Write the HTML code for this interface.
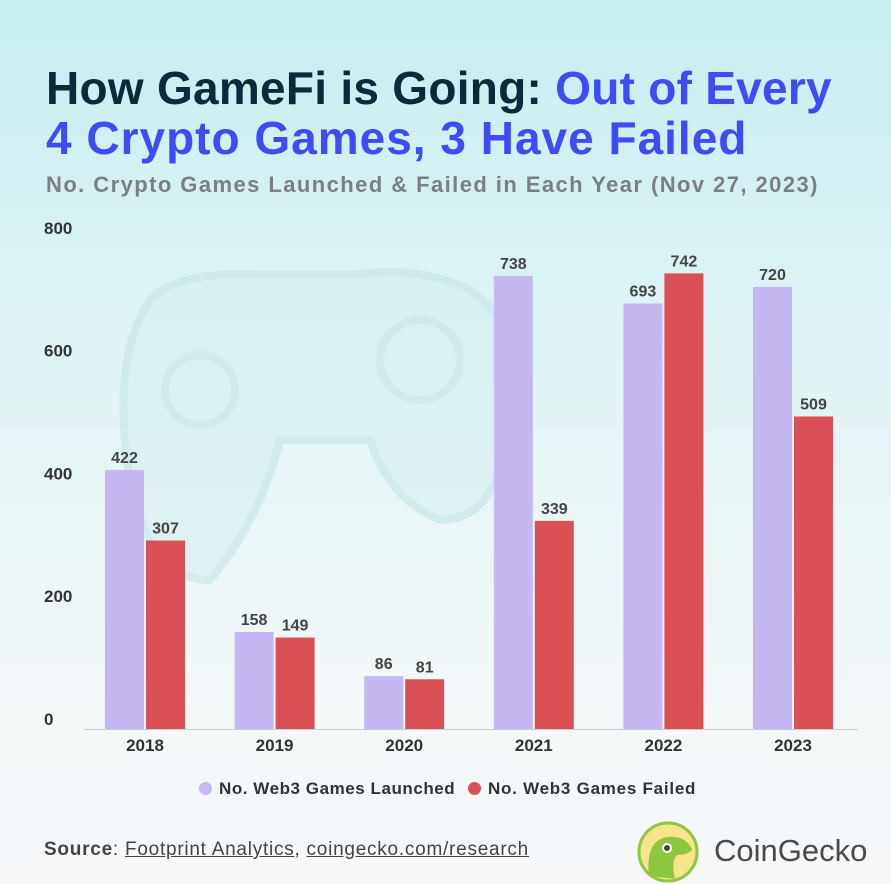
<!DOCTYPE html>
<html><head><meta charset="utf-8"><style>
body{margin:0;width:891px;height:884px;overflow:hidden;font-family:"Liberation Sans",sans-serif;}
#root{position:relative;width:891px;height:884px;background:linear-gradient(180deg,#c8edf0 0%,#e3f4f5 45%,#f3f8f9 80%,#f6f8fa 100%);}
.t{position:absolute;left:46px;font-weight:bold;font-size:46px;letter-spacing:0.27px;line-height:50px;color:#0d2a3a;white-space:nowrap;}
.b{color:#3d4cf5;}
</style></head><body>
<div id="root">
<div class="t" style="top:63px">How GameFi is Going: <span class="b">Out of Every</span></div>
<div class="t b" style="top:113px;letter-spacing:1px">4 Crypto Games, 3 Have Failed</div>
<div style="position:absolute;left:46px;top:172px;font-size:22px;letter-spacing:1.43px;font-weight:bold;color:#7b7f84;white-space:nowrap">No. Crypto Games Launched &amp; Failed in Each Year (Nov 27, 2023)</div>
<svg id="chart" width="891" height="884" style="position:absolute;left:0;top:0">
<g fill="none" stroke="#c4e4e7" stroke-width="8" opacity="0.6">
<path d="M150,300 Q180,270 260,275 L350,275 Q420,265 470,290 Q520,320 510,420 Q500,520 440,520 Q390,500 370,440 L280,440 Q260,520 210,580 Q150,580 130,480 Q110,360 150,300Z" fill="#d6eef0"/>
<circle cx="200" cy="390" r="35"/><circle cx="420" cy="360" r="40"/>
</g>
<g id="axes"></g><g id="bars"></g>
</svg>
<div style="position:absolute;left:199px;top:782px;width:13px;height:13px;border-radius:50%;background:#c5b8f2"></div>
<div style="position:absolute;left:219px;top:779px;font-size:17px;letter-spacing:0.55px;font-weight:bold;color:#333;white-space:nowrap">No. Web3 Games Launched</div>
<div style="position:absolute;left:468px;top:782px;width:13px;height:13px;border-radius:50%;background:#db5055"></div>
<div style="position:absolute;left:488px;top:779px;font-size:17px;letter-spacing:0.75px;font-weight:bold;color:#333;white-space:nowrap">No. Web3 Games Failed</div>
<div style="position:absolute;left:44px;top:839px;font-size:19px;letter-spacing:0.75px;color:#444;white-space:nowrap"><b>Source</b>: <u>Footprint Analytics</u>, <u>coingecko.com/research</u></div>
<svg style="position:absolute;left:637px;top:821px" width="62" height="62">
<circle cx="31" cy="31" r="29" fill="#f8e48a" stroke="#8dc63f" stroke-width="3"/>
<path d="M12,55 Q8,20 30,16 Q48,14 55,28 Q52,34 40,34 Q34,40 38,58 Z" fill="#8dc63f"/>
<circle cx="30" cy="27" r="5" fill="#fff"/><circle cx="30" cy="27" r="3" fill="#444"/>
</svg>
<div style="position:absolute;left:714px;top:833px;font-size:31px;color:#4a4a4a">CoinGecko</div>
</div>
<script>
const years=["2018","2019","2020","2021","2022","2023"];
const launched=[422,158,86,738,693,720];
const failed=[307,149,81,339,742,509];
const yTicks=[0,200,400,600,800];
const NS="http://www.w3.org/2000/svg";
const y0=729,pxPer=0.614,x0=145,step=129.6,bw=39;
const y=v=>y0-v*pxPer, xc=i=>x0+i*step;
const ax=document.getElementById('axes'),bars=document.getElementById('bars');
function mk(tag,attrs,parent,text){const e=document.createElementNS(NS,tag);for(const k in attrs)e.setAttribute(k,attrs[k]);if(text!=null)e.textContent=text;parent.appendChild(e);return e;}
yTicks.forEach(t=>{const e=mk('text',{x:44,y:y(t)-4,'font-size':17,'font-weight':'bold',fill:'#333','font-family':'Liberation Sans'},ax,t);

});
const bl=mk('line',{x1:84,x2:858,y1:y0+0.5,y2:y0+0.5,stroke:'#ccc'},ax);


years.forEach((yr,i)=>{
 const l=mk('text',{x:xc(i),y:751,'text-anchor':'middle','font-size':17,'font-weight':'bold',fill:'#333','font-family':'Liberation Sans'},ax,yr);
 
 
 [[launched[i],'#c5b8f2',xc(i)-40,'bar-launched'],[failed[i],'#db5055',xc(i)+1,'bar-failed']].forEach(([v,c,x,n])=>{
  const r=mk('rect',{x:x,y:y(v),width:bw,height:v*pxPer,fill:c},bars);
  
  
  const t=mk('text',{x:x+bw/2,y:y(v)-7,'text-anchor':'middle','font-size':16,'font-weight':'bold',fill:'#444','font-family':'Liberation Sans'},bars,v);
  
  
 });
});
</script>
</body></html>
